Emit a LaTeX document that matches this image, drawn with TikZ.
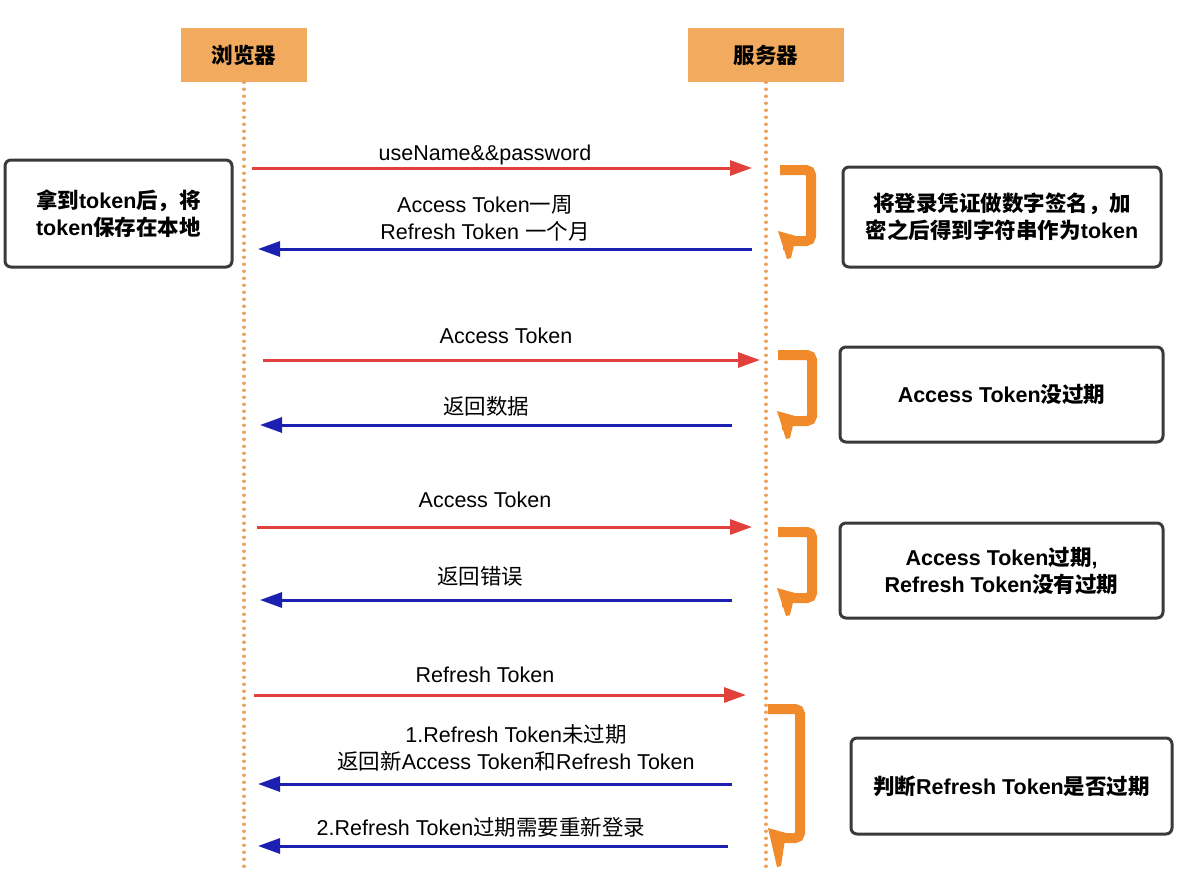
\documentclass[tikz,border=0pt]{standalone}
\usepackage{fontspec}
\setmainfont{Liberation Sans}
\newfontfamily\cjk{Noto Sans CJK SC}
\usetikzlibrary{arrows.meta}

\definecolor{headfill}{HTML}{F2AA5E}
\definecolor{reqred}{HTML}{E2403D}
\definecolor{resblue}{HTML}{1B20B0}
\definecolor{turnorange}{HTML}{F08A2A}
\definecolor{lifedot}{HTML}{E9A25A}
\definecolor{boxgray}{HTML}{3A3A3A}

\newcommand{\lblsize}{\fontsize{21.5}{27}\selectfont}

\tikzset{
  head/.style={fill=headfill, minimum height=54, inner sep=0, font=\lblsize\cjk\bfseries},
  note/.style={draw=boxgray, line width=3, rounded corners=6, fill=white, align=center, inner sep=0, font=\lblsize\bfseries},
  life/.style={lifedot, line width=3.4, line cap=round, dash pattern=on 0.1 off 6.9},
  req/.style={reqred, line width=3, -{Triangle[length=22,width=15]}},
  res/.style={resblue, line width=3, -{Triangle[length=22,width=15]}},
  turn/.style={turnorange, line width=10, rounded corners=5},
  msg/.style={align=center, inner sep=0, font=\lblsize}
}

\begin{document}
\begin{tikzpicture}[x=1pt, y=-1pt]

\useasboundingbox (0,0) rectangle (1183,872);

% Draw the heads and the lifelines
\node[head, minimum width=126] (browser) at (244,55) {浏览器};
\node[head, minimum width=156] (server) at (766,55) {服务器};
\coordinate (browserend) at (244,872);
\coordinate (serverend) at (766,872);
\draw[life] (browser.south) -- (browserend);
\draw[life] (server.south) -- (serverend);

% Draw the notes
\node[note, minimum width=227, minimum height=107] (store) at (118.5,213.5)
  {{\cjk 拿到}token{\cjk 后，将}\\token{\cjk 保存在本地}};
\node[note, minimum width=318, minimum height=100] (sign) at (1002,217)
  {\cjk 将登录凭证做数字签名，加\\{\cjk 密之后得到字符串作为}token};
\node[note, minimum width=323, minimum height=95] (valid) at (1001.5,394.5)
  {Access Token{\cjk 没过期}};
\node[note, minimum width=323, minimum height=95] (expired) at (1001.5,570.5)
  {Access Token{\cjk 过期},\\Refresh Token{\cjk 没有过期}};
\node[note, minimum width=321, minimum height=96] (check) at (1011.5,786)
  {{\cjk 判断}Refresh Token{\cjk 是否过期}};

% Draw the end points of the messages
\coordinate (b1) at (252,168);   \coordinate (s1) at (752,168);
\coordinate (s2) at (752,249);   \coordinate (b2) at (258,249);
\coordinate (b3) at (263,360);   \coordinate (s3) at (760,360);
\coordinate (s4) at (732,425);   \coordinate (b4) at (260,425);
\coordinate (b5) at (257,527);   \coordinate (s5) at (752,527);
\coordinate (s6) at (732,600);   \coordinate (b6) at (260,600);
\coordinate (b7) at (254,695);   \coordinate (s7) at (746,695);
\coordinate (s8) at (732,784);   \coordinate (b8) at (258,784);
\coordinate (s9) at (728,846);   \coordinate (b9) at (258,846);

% Draw the messages
\draw[req] (b1) -- (s1);
\draw[res] (s2) -- (b2);
\draw[req] (b3) -- (s3);
\draw[res] (s4) -- (b4);
\draw[req] (b5) -- (s5);
\draw[res] (s6) -- (b6);
\draw[req] (b7) -- (s7);
\draw[res] (s8) -- (b8);
\draw[res] (s9) -- (b9);

% Draw the labels
\node[msg] (m1) at (485,155) {useName\&\&password};
\node[msg] (m2) at (485,218) {Access Token{\cjk 一周}\\Refresh Token {\cjk 一个月}};
\node[msg] (m3) at (506,336) {Access Token};
\node[msg] (m4) at (486,406) {\cjk 返回数据};
\node[msg] (m5) at (485,500) {Access Token};
\node[msg] (m6) at (480,576) {\cjk 返回错误};
\node[msg] (m7) at (485,675) {Refresh Token};
\node[msg] (m8) at (516,748) {1.Refresh Token{\cjk 未过期}\\{\cjk 返回新}Access Token{\cjk 和}Refresh Token};
\node[msg] (m9) at (481,827) {2.Refresh Token{\cjk 过期需要重新登录}};

% Draw the turns at the server
\draw[turn] (780,170) -- (811,170) -- (811,241) -- (788,241) -- (788,250);
\fill[turnorange] (778,231) -- (796,236) -- (791,258) -- (787,259) -- cycle;
\draw[turn] (778,355) -- (812,355) -- (812,421) -- (787,421) -- (787,430);
\fill[turnorange] (777,411) -- (795,416) -- (790,438) -- (786,439) -- cycle;
\draw[turn] (778,532) -- (812,532) -- (812,598) -- (787,598) -- (787,607);
\fill[turnorange] (777,588) -- (795,593) -- (790,615) -- (786,616) -- cycle;
\draw[turn] (768,709) -- (800,709) -- (800,838) -- (778,838) -- (778,847);
\fill[turnorange] (768,828) -- (786,833) -- (781,866) -- (777,867) -- cycle;

\end{tikzpicture}
\end{document}
